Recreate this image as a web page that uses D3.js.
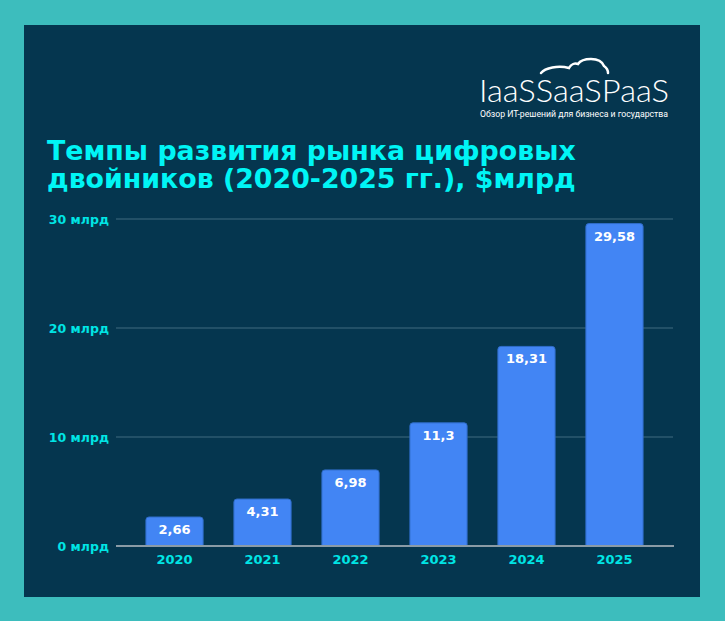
<!DOCTYPE html>
<html><head><meta charset="utf-8">
<script src="https://cdn.jsdelivr.net/npm/d3@7"></script>
<style>html,body{margin:0;padding:0;background:#3dbdbd;}svg{display:block;}</style>
</head><body>
<script>
const categories = ["2020","2021","2022","2023","2024","2025"];
const values = [2.66, 4.31, 6.98, 11.3, 18.31, 29.58];
const valueLabels = ["2,66","4,31","6,98","11,3","18,31","29,58"];
const yTicks = [0, 10, 20, 30];
const yTickLabels = ["0 млрд","10 млрд","20 млрд","30 млрд"];
const titleLines = ["Темпы развития рынка цифровых","двойников (2020-2025 гг.), $млрд"];

const W = 725, H = 621;
const svg = d3.select("body").append("svg").attr("width", W).attr("height", H);
svg.append("rect").attr("width", W).attr("height", H).attr("fill", "#3dbdbd");
svg.append("rect").attr("x", 24).attr("y", 25).attr("width", 676).attr("height", 572).attr("fill", "#05364f");

// title
svg.append("g").selectAll("text").data(titleLines).join("text")
  .attr("x", 47).attr("y", (d,i) => 160 + i*28)
  .attr("fill", "#00f5f5").attr("font-family", "DejaVu Sans, Verdana, sans-serif")
  .attr("font-weight", "bold").attr("font-size", 26.8)
  .text(d => d);

// logo
const logo = svg.append("g");
logo.append("text").attr("x", 479).attr("y", 102).attr("fill", "#fff")
  .attr("font-family", "Lato, 'Open Sans', sans-serif").attr("font-weight", 300).attr("font-size", 31)
  .attr("textLength", 190).attr("lengthAdjust", "spacingAndGlyphs").text("IaaSSaaSPaaS");
logo.append("text").attr("x", 480).attr("y", 117).attr("fill", "#fff")
  .attr("font-family", "'Liberation Sans Narrow', 'Roboto', sans-serif").attr("font-size", 9.5)
  .attr("textLength", 188).attr("lengthAdjust", "spacingAndGlyphs").text("Обзор ИТ-решений для бизнеса и государства");
logo.append("path")
  .attr("d", "M541,73 C545,68 558,65 569,68 C571,64 575,63 578,64 C582,58 600,56 604,66 C607,68 608,70 608,73")
  .attr("fill", "none").attr("stroke", "#fff").attr("stroke-width", 2.5).attr("stroke-linecap", "round");

const x = d3.scaleBand().domain(categories).range([116, 673]).paddingInner(0.35).paddingOuter(0.34);
const y = d3.scaleLinear().domain([0, 30]).range([546, 219]);

// grid
svg.append("g").selectAll("line").data(yTicks.filter(d => d > 0)).join("line")
  .attr("x1", 116).attr("x2", 673).attr("y1", d => y(d)).attr("y2", d => y(d))
  .attr("stroke", "#2d5a6f").attr("stroke-width", 1.5);

// y tick labels
svg.append("g").selectAll("text").data(yTicks).join("text")
  .attr("x", 109).attr("y", d => y(d) + 5).attr("text-anchor", "end")
  .attr("fill", "#00e5e5").attr("font-family", "DejaVu Sans, Verdana, sans-serif")
  .attr("font-weight", "bold").attr("font-size", 12.5)
  .text((d,i) => yTickLabels[i]);

// bars with rounded top
const r = 3;
function barPath(d, i) {
  const x0 = x(categories[i]), w = x.bandwidth(), y0 = y(d), y1 = y(0);
  return `M${x0},${y1} V${y0 + r} Q${x0},${y0} ${x0 + r},${y0} H${x0 + w - r} Q${x0 + w},${y0} ${x0 + w},${y0 + r} V${y1} Z`;
}
svg.append("g").selectAll("path").data(values).join("path")
  .attr("d", barPath).attr("fill", "#4285f4").attr("stroke", "#2f6cc8").attr("stroke-width", 1);

// value labels
svg.append("g").selectAll("text").data(values).join("text")
  .attr("x", (d,i) => x(categories[i]) + x.bandwidth()/2).attr("y", d => y(d) + 17)
  .attr("text-anchor", "middle").attr("fill", "#fff")
  .attr("font-family", "DejaVu Sans, Verdana, sans-serif").attr("font-weight", "bold").attr("font-size", 13)
  .text((d,i) => valueLabels[i]);

// baseline axis
svg.append("line").attr("x1", 116).attr("x2", 674).attr("y1", y(0)).attr("y2", y(0))
  .attr("stroke", "#8a9ba6").attr("stroke-width", 2);

// x labels
svg.append("g").selectAll("text").data(categories).join("text")
  .attr("x", d => x(d) + x.bandwidth()/2).attr("y", 564).attr("text-anchor", "middle")
  .attr("fill", "#00e5e5").attr("font-family", "DejaVu Sans, Verdana, sans-serif")
  .attr("font-weight", "bold").attr("font-size", 13)
  .text(d => d);
</script>
</body></html>
